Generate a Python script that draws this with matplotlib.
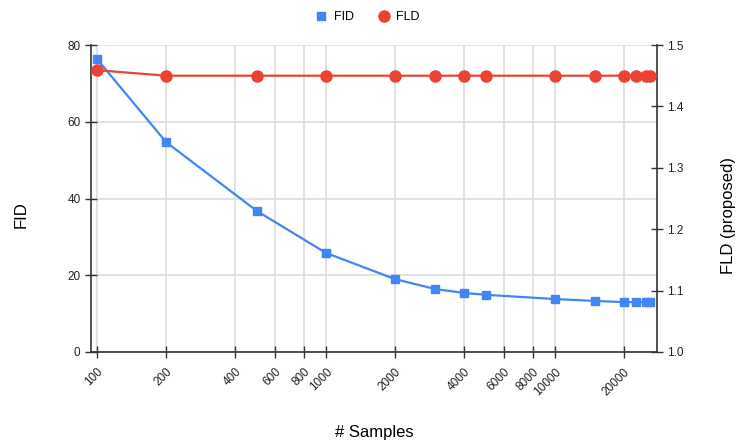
import matplotlib
matplotlib.use("Agg")
import matplotlib.pyplot as plt
from matplotlib.ticker import FixedLocator, NullLocator

plt.rcParams["font.family"] = ["Liberation Sans", "DejaVu Sans"]

# data
samples = [100, 200, 500, 1000, 2000, 3000, 4000, 5000, 10000, 15000, 20000, 22500, 25000, 26000]
fid = [76.3, 54.7, 36.7, 25.8, 19.0, 16.4, 15.4, 14.9, 13.8, 13.3, 13.0, 13.0, 13.0, 13.0]
fld = [1.459, 1.45, 1.45, 1.45, 1.45, 1.45, 1.45, 1.45, 1.45, 1.45, 1.45, 1.45, 1.45, 1.45]
x_ticks = [100, 200, 400, 600, 800, 1000, 2000, 4000, 6000, 8000, 10000, 20000]
fid_ticks = [0, 20, 40, 60, 80]
fld_ticks = [1.0, 1.1, 1.2, 1.3, 1.4, 1.5]

blue = "#4285f4"
red = "#ea4335"
axis_col = "#333333"

fig = plt.figure(figsize=(7.36, 4.42), dpi=100)
ax = fig.add_axes([91 / 736, 1 - 352 / 442, (657 - 91) / 736, (352 - 45) / 442])
ax2 = ax.twinx()

ax.set_xscale("log")
ax.set_xlim(94, 27900)
ax.set_ylim(0, 80)
ax2.set_ylim(1.0, 1.5)

ax.xaxis.set_major_locator(FixedLocator(x_ticks))
ax.xaxis.set_minor_locator(NullLocator())
ax.set_xticklabels([str(t) for t in x_ticks], rotation=45, ha="right",
                   rotation_mode="anchor", fontsize=8.5, color="#222222")
ax.set_yticks(fid_ticks)
ax2.set_yticks(fld_ticks)
ax2.set_yticklabels([f"{t:.1f}" for t in fld_ticks])

ax.grid(True, which="major", color="#dddddd", linewidth=1.2)
ax.set_axisbelow(True)

for a in (ax, ax2):
    a.tick_params(direction="inout", length=8, width=1, colors=axis_col,
                  labelsize=8.5, labelcolor="#222222")
    for s in a.spines.values():
        s.set_visible(False)
ax.spines["left"].set_visible(True)
ax.spines["bottom"].set_visible(True)
ax2.spines["right"].set_visible(True)
for s in (ax.spines["left"], ax.spines["bottom"], ax2.spines["right"]):
    s.set_color(axis_col)
    s.set_linewidth(1.2)
ax.tick_params(axis="x", pad=6)

l1, = ax.plot(samples, fid, color=blue, marker="s", markersize=5.5, linewidth=1.6,
              label="FID", clip_on=False, zorder=3)
l2, = ax2.plot(samples, fld, color=red, marker="o", markersize=8, linewidth=1.6,
               label="FLD", clip_on=False, zorder=3)

# axis titles, placed like the reference (a bit below the axis centre)
fig.text(21 / 736, 1 - 215 / 442, "FID", rotation=90, fontsize=12,
         ha="center", va="center")
fig.text(728 / 736, 1 - 215 / 442, "FLD (proposed)", rotation=90, fontsize=12,
         ha="center", va="center")
fig.text(374 / 736, 1 - 432 / 442, "# Samples", fontsize=12,
         ha="center", va="center")

fig.legend(handles=[l1, l2], loc="upper center", bbox_to_anchor=(0.5, 1.0),
           ncol=2, frameon=False, fontsize=9, handlelength=0.8,
           handletextpad=0.6, columnspacing=2.0)
for h in fig.legends[0].legend_handles:
    h.set_linestyle("none")

fig.savefig("out.png", dpi=100)
